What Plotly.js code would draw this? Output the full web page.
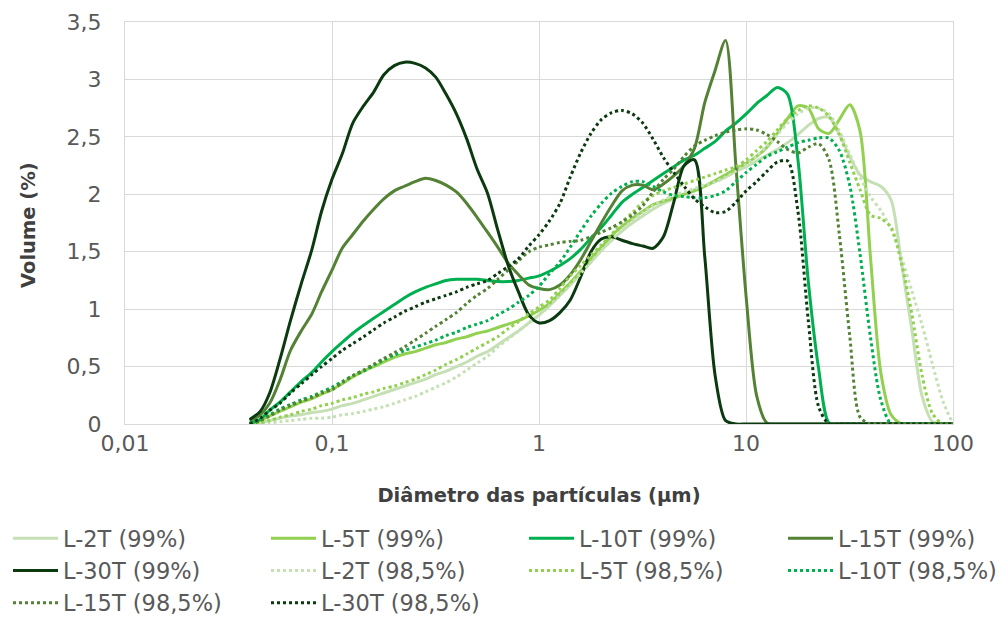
<!DOCTYPE html>
<html>
<head>
<meta charset="utf-8">
<script src="https://cdn.plot.ly/plotly-3.0.1.min.js"></script>
<style>html,body{margin:0;padding:0;background:#fff;}#chart{width:1003px;height:619px;}</style>
</head>
<body>
<div id="chart"></div>
<script>
// Particle diameter (µm), log-spaced bins
const diameter = [0.040,0.045,0.050,0.056,0.063,0.071,0.080,0.089,0.100,0.112,0.126,0.142,0.159,0.178,0.200,0.224,0.252,0.283,0.317,0.356,0.399,0.448,0.502,0.564,0.632,0.710,0.796,0.893,1.002,1.125,1.262,1.416,1.589,1.783,2.000,2.244,2.518,2.825,3.170,3.557,3.991,4.477,5.024,5.637,6.325,7.096,7.962,8.934,10.024,11.247,12.619,14.159,15.887,17.825,20.000,22.440,25.179,28.251,31.698,35.566,39.905,44.774,50.238,56.368,63.246,70.963,79.621,89.337,100.000];

// Volume (%) — 99% series
const L2T_99 = [0.00,0.01,0.03,0.05,0.07,0.08,0.10,0.11,0.13,0.16,0.18,0.21,0.24,0.27,0.30,0.33,0.36,0.39,0.43,0.46,0.50,0.54,0.59,0.63,0.69,0.75,0.81,0.88,0.95,1.03,1.12,1.21,1.31,1.41,1.51,1.60,1.68,1.75,1.81,1.87,1.92,1.96,2.00,2.04,2.07,2.11,2.15,2.20,2.24,2.29,2.34,2.39,2.45,2.52,2.60,2.66,2.67,2.52,2.33,2.17,2.11,2.07,1.95,1.40,0.82,0.24,0.02,0,0];
const L5T_99 = [0.00,0.03,0.07,0.11,0.15,0.19,0.22,0.26,0.30,0.35,0.41,0.46,0.50,0.54,0.58,0.61,0.63,0.66,0.69,0.71,0.74,0.76,0.79,0.81,0.84,0.87,0.90,0.94,0.99,1.05,1.14,1.23,1.33,1.44,1.54,1.64,1.72,1.79,1.85,1.91,1.94,1.97,2.00,2.03,2.07,2.12,2.17,2.22,2.27,2.33,2.41,2.53,2.66,2.77,2.75,2.57,2.53,2.65,2.78,2.55,1.46,0.45,0.08,0,0,0,0,0,0];
const L10T_99 = [0.01,0.04,0.12,0.19,0.28,0.37,0.45,0.54,0.63,0.71,0.79,0.86,0.92,0.98,1.04,1.10,1.15,1.19,1.22,1.25,1.26,1.26,1.26,1.25,1.24,1.24,1.25,1.27,1.29,1.33,1.38,1.44,1.52,1.62,1.71,1.82,1.93,2.00,2.06,2.12,2.18,2.24,2.30,2.34,2.40,2.46,2.55,2.62,2.70,2.79,2.86,2.93,2.87,2.30,1.24,0.48,0.01,0,0,0,0,0,0,0,0,0,0,0,0];
const L15T_99 = [0.03,0.08,0.18,0.38,0.64,0.81,0.96,1.15,1.34,1.53,1.65,1.77,1.87,1.96,2.03,2.07,2.11,2.14,2.12,2.08,2.02,1.92,1.80,1.67,1.54,1.40,1.30,1.21,1.18,1.17,1.21,1.30,1.43,1.59,1.75,1.90,2.03,2.08,2.08,2.04,2.09,2.16,2.25,2.40,2.80,3.08,3.34,2.25,1.10,0.25,0.01,0,0,0,0,0,0,0,0,0,0,0,0,0,0,0,0,0,0];
const L30T_99 = [0.04,0.11,0.27,0.56,0.90,1.22,1.52,1.85,2.13,2.35,2.62,2.77,2.89,3.04,3.12,3.15,3.14,3.10,3.02,2.87,2.70,2.48,2.22,2.01,1.69,1.38,1.15,0.95,0.88,0.90,0.97,1.08,1.28,1.50,1.61,1.63,1.60,1.57,1.55,1.53,1.63,1.93,2.25,2.30,1.45,0.42,0.03,0,0,0,0,0,0,0,0,0,0,0,0,0,0,0,0,0,0,0,0,0,0];

// Volume (%) — 98,5% series
const L2T_985 = [0.00,0.00,0.01,0.02,0.03,0.04,0.05,0.05,0.06,0.08,0.09,0.11,0.13,0.15,0.18,0.21,0.24,0.28,0.32,0.36,0.41,0.47,0.53,0.59,0.67,0.74,0.81,0.88,0.95,1.03,1.12,1.21,1.31,1.41,1.51,1.60,1.69,1.77,1.84,1.90,1.95,1.99,2.02,2.05,2.08,2.11,2.15,2.20,2.26,2.33,2.42,2.52,2.62,2.70,2.75,2.75,2.70,2.55,2.35,2.15,1.98,1.86,1.70,1.45,1.16,0.86,0.52,0.20,0.00];
const L5T_985 = [0.00,0.01,0.03,0.06,0.08,0.11,0.13,0.16,0.18,0.21,0.23,0.26,0.28,0.31,0.33,0.36,0.39,0.43,0.47,0.52,0.56,0.61,0.66,0.71,0.76,0.83,0.89,0.96,1.02,1.08,1.18,1.29,1.38,1.47,1.56,1.65,1.76,1.84,1.93,1.99,2.03,2.06,2.09,2.12,2.15,2.18,2.21,2.24,2.30,2.38,2.46,2.56,2.66,2.73,2.77,2.75,2.68,2.52,2.28,2.04,1.82,1.79,1.71,1.40,0.96,0.42,0.09,0,0];
const L10T_985 = [0.00,0.03,0.08,0.13,0.17,0.21,0.24,0.28,0.32,0.37,0.42,0.46,0.51,0.56,0.60,0.64,0.67,0.70,0.73,0.77,0.80,0.84,0.87,0.90,0.95,1.00,1.06,1.12,1.20,1.31,1.41,1.54,1.68,1.81,1.92,2.01,2.07,2.11,2.11,2.07,2.02,1.99,1.98,1.97,1.97,1.99,2.03,2.11,2.19,2.26,2.33,2.37,2.41,2.45,2.47,2.49,2.49,2.38,2.08,1.48,0.76,0.21,0.00,0,0,0,0,0,0];
const L15T_985 = [0.00,0.03,0.07,0.12,0.16,0.20,0.23,0.27,0.30,0.36,0.42,0.47,0.52,0.57,0.62,0.67,0.73,0.79,0.85,0.91,0.97,1.05,1.12,1.18,1.26,1.34,1.42,1.50,1.54,1.56,1.58,1.59,1.60,1.63,1.67,1.71,1.76,1.82,1.90,2.02,2.13,2.22,2.33,2.42,2.47,2.51,2.54,2.56,2.57,2.56,2.52,2.46,2.39,2.36,2.41,2.44,2.30,1.65,0.77,0.06,0,0,0,0,0,0,0,0,0];
const L30T_985 = [0.00,0.05,0.12,0.18,0.27,0.35,0.43,0.50,0.57,0.64,0.70,0.76,0.82,0.88,0.93,0.98,1.02,1.06,1.09,1.12,1.15,1.19,1.22,1.25,1.31,1.37,1.44,1.55,1.65,1.77,1.92,2.15,2.36,2.53,2.65,2.71,2.73,2.70,2.62,2.48,2.32,2.19,2.07,1.96,1.89,1.84,1.85,1.93,2.03,2.11,2.20,2.28,2.29,1.85,0.90,0.15,0.00,0,0,0,0,0,0,0,0,0,0,0,0];

const seriesNames = ['L-2T (99%)','L-5T (99%)','L-10T (99%)','L-15T (99%)','L-30T (99%)',
                     'L-2T (98,5%)','L-5T (98,5%)','L-10T (98,5%)','L-15T (98,5%)','L-30T (98,5%)'];
const seriesValues = [L2T_99, L5T_99, L10T_99, L15T_99, L30T_99, L2T_985, L5T_985, L10T_985, L15T_985, L30T_985];
const colors = ['#c5e0b4','#92d050','#00b050','#548235','#0b3a10'];

const xTickVals = [0.01, 0.1, 1, 10, 100];
const xTickText = ['0,01', '0,1', '1', '10', '100'];
const yTickVals = [0, 0.5, 1, 1.5, 2, 2.5, 3, 3.5];
const yTickText = ['0', '0,5', '1', '1,5', '2', '2,5', '3', '3,5'];
const xTitle = 'Diâmetro das partículas (µm)';
const yTitle = 'Volume (%)';

const FONT = '"DejaVu Sans", "Open Sans", sans-serif';
const legendIds = ['legend', 'legend2', 'legend3', 'legend4'];

// legend laid out in 4 columns, filled row by row (like the reference)
const traces = seriesNames.map((name, i) => ({
  x: diameter,
  y: seriesValues[i],
  name: name,
  type: 'scatter',
  mode: 'lines',
  legend: legendIds[i % 4],
  line: {
    color: colors[i % 5],
    width: 3,
    dash: i < 5 ? 'solid' : 'dot',
    shape: 'spline',
    smoothing: 0.8
  },
  hoverinfo: 'skip'
}));

function legendAt(px) {
  return {
    orientation: 'v',
    xref: 'container',
    yref: 'container',
    x: px / 1003,
    y: 1 - 517 / 619,
    xanchor: 'left',
    yanchor: 'top',
    itemwidth: 45,
    font: {family: FONT, size: 22.5, color: '#595959'},
    bgcolor: 'rgba(0,0,0,0)',
    traceorder: 'normal'
  };
}

const layout = {
  width: 1003,
  height: 619,
  margin: {l: 125, r: 50, t: 22, b: 195, autoexpand: false},
  paper_bgcolor: '#ffffff',
  plot_bgcolor: '#ffffff',
  font: {family: FONT, color: '#595959', size: 22},
  showlegend: true,
  xaxis: {
    type: 'log',
    range: [-2, 2],
    tickvals: xTickVals,
    ticktext: xTickText,
    tickfont: {family: FONT, size: 22, color: '#595959'},
    showgrid: true,
    gridcolor: '#d9d9d9',
    gridwidth: 1,
    showline: true,
    linecolor: '#d9d9d9',
    linewidth: 1,
    mirror: true,
    ticks: '',
    zeroline: false,
    title: {text: '<b>' + xTitle + '</b>', font: {family: FONT, size: 19.5, color: '#404040'}, standoff: 32}
  },
  yaxis: {
    range: [0, 3.5],
    tickvals: yTickVals,
    ticktext: yTickText,
    tickfont: {family: FONT, size: 22, color: '#595959'},
    showgrid: true,
    gridcolor: '#d9d9d9',
    gridwidth: 1,
    showline: true,
    linecolor: '#d9d9d9',
    linewidth: 1,
    mirror: true,
    ticks: '',
    ticklabelstandoff: 18,
    zeroline: false
  },
  annotations: [{
    text: '<b>' + yTitle + '</b>',
    textangle: -90,
    xref: 'paper', yref: 'paper',
    x: (28 - 125) / 828, y: 0.495,
    xanchor: 'center', yanchor: 'middle',
    showarrow: false,
    font: {family: FONT, size: 19.5, color: '#404040'}
  }],
  legend: legendAt(8),
  legend2: legendAt(266),
  legend3: legendAt(524),
  legend4: legendAt(783)
};

Plotly.newPlot('chart', traces, layout, {displayModeBar: false, staticPlot: true});
</script>
</body>
</html>
